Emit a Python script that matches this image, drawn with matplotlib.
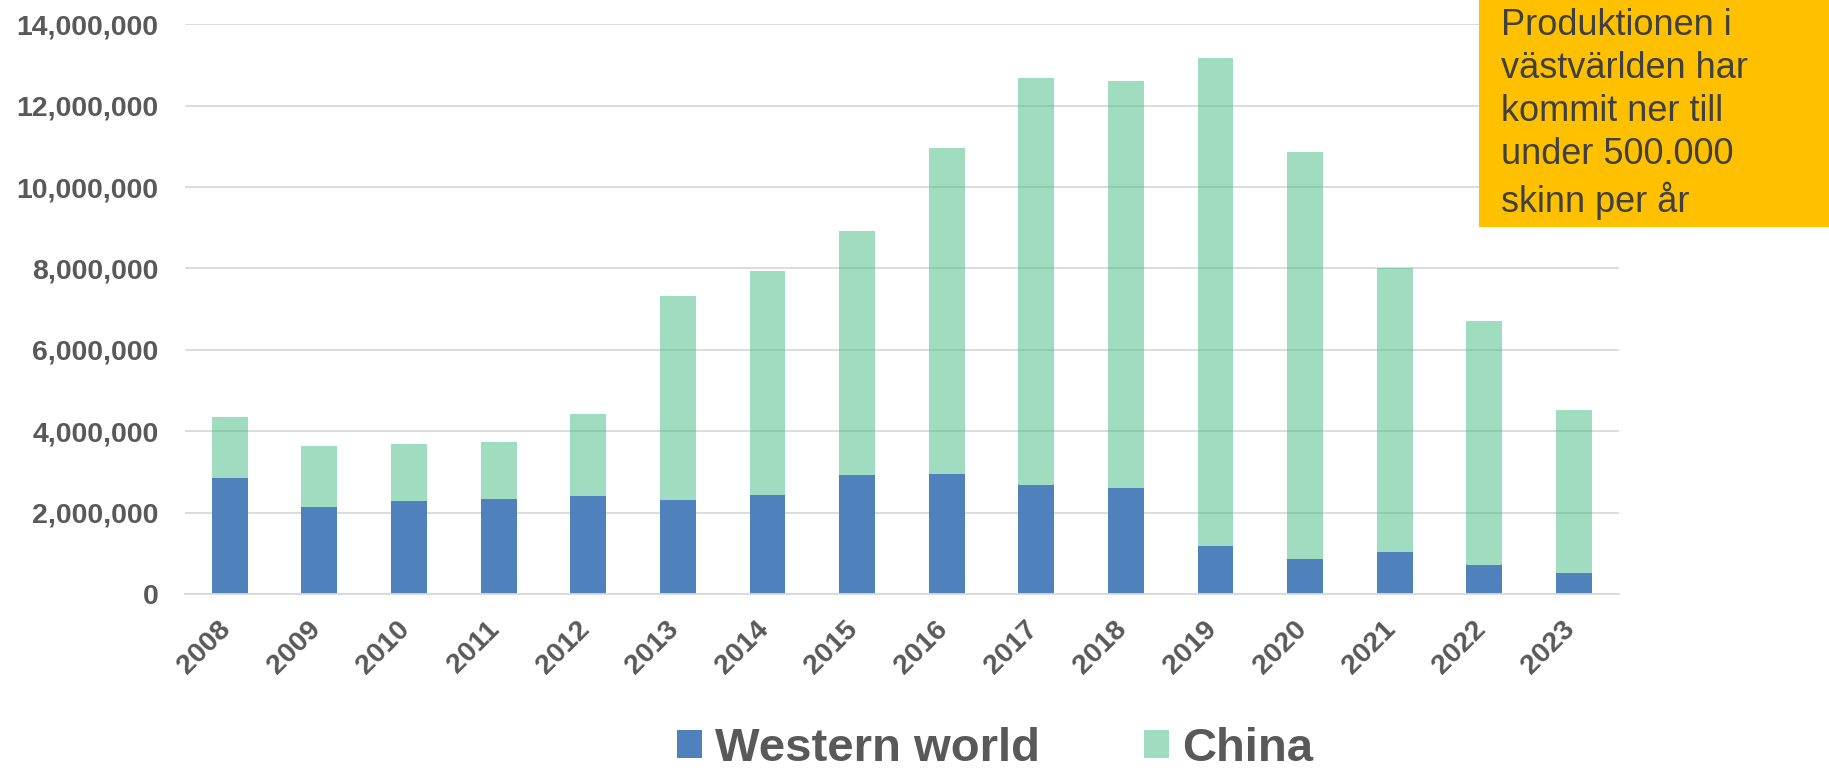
import numpy as np
import matplotlib
matplotlib.use("Agg")
import matplotlib.pyplot as plt
import matplotlib.transforms as mtrans
from matplotlib.patches import Rectangle

plt.rcParams['font.family'] = ['Liberation Sans', 'DejaVu Sans']

years = ['2008', '2009', '2010', '2011', '2012', '2013', '2014', '2015',
         '2016', '2017', '2018', '2019', '2020', '2021', '2022', '2023']
western = [2.84, 2.13, 2.29, 2.33, 2.42, 2.32, 2.44, 2.92,
           2.96, 2.69, 2.61, 1.17, 0.87, 1.02, 0.72, 0.51]
china = [1.5, 1.5, 1.4, 1.4, 2.0, 5.0, 5.5, 6.0,
         8.0, 10.0, 10.0, 12.0, 10.0, 7.0, 6.0, 4.0]
western = np.array(western) * 1e6
china = np.array(china) * 1e6

note = "Produktionen i\nvästvärlden har\nkommit ner till\nunder 500.000\nskinn per år"

grey = '#595959'
blue = '#4F81BD'
green = (67/255, 189/255, 131/255)

fig = plt.figure(figsize=(18.29, 7.72), dpi=100)
ax = fig.add_axes([0.1011, 0.2306, 0.784, 0.7379])

x = np.arange(len(years))
b1 = ax.bar(x, western, width=0.4, color=blue, label='Western world', zorder=3)
b2 = ax.bar(x, china, width=0.4, bottom=western, color=green, alpha=0.5,
            label='China', zorder=3)

ax.set_xlim(-0.5, len(years) - 0.5)
ax.set_ylim(0, 14e6)
ax.set_yticks(np.arange(0, 14.1e6, 2e6))
ax.yaxis.set_major_formatter(matplotlib.ticker.FuncFormatter(lambda v, p: f'{int(v):,}'))
ax.grid(axis='y', color='#D9D9D9', lw=1.3)
ax.set_axisbelow(False)
for gl in ax.get_ygridlines():
    gl.set_zorder(2)
for s in ['top', 'right', 'left']:
    ax.spines[s].set_visible(False)
ax.spines['bottom'].set_color('#D9D9D9')
ax.spines['bottom'].set_linewidth(1.3)
ax.spines['bottom'].set_zorder(4)

ax.set_xticks(x)
ax.set_xticklabels(years, rotation=45, ha='right', rotation_mode='anchor')
ax.tick_params(axis='both', length=0, labelsize=20.5, labelcolor=grey)
ax.tick_params(axis='y', pad=19)
ax.tick_params(axis='x', pad=16)
shift = mtrans.ScaledTranslation(-0.12, 0, fig.dpi_scale_trans)
for t in ax.get_xticklabels():
    t.set_transform(t.get_transform() + shift)
for t in ax.get_xticklabels() + ax.get_yticklabels():
    t.set_fontweight('bold')

leg = fig.legend(handles=[b1, b2], loc='center', bbox_to_anchor=(0.544, 0.03),
                 ncol=2, frameon=False, fontsize=34, handlelength=0.53,
                 handleheight=0.53, handletextpad=0.28, columnspacing=2.2)
for t in leg.get_texts():
    t.set_color(grey)
    t.set_fontweight('bold')

fig.patches.append(Rectangle((0.8086, 0.706), 0.1914, 0.294, transform=fig.transFigure,
                             facecolor='#FFC000', edgecolor='none', zorder=5))
fig.text(0.8207, 0.99, note, fontsize=26, color='#404040', va='top', ha='left',
         linespacing=1.30, zorder=6)

fig.savefig('out.png', dpi=100)
